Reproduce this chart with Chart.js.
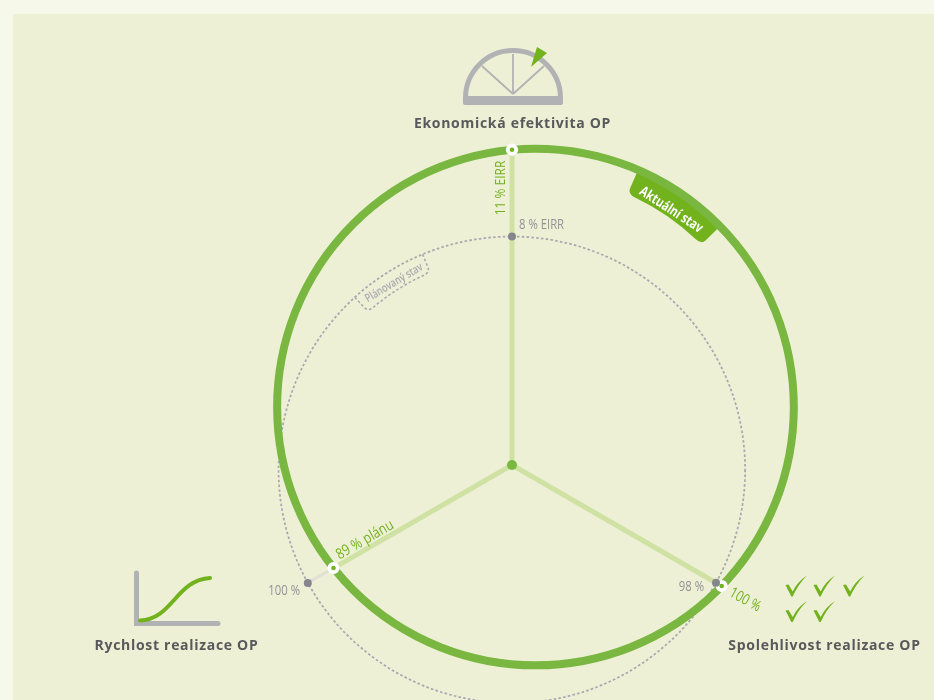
<!DOCTYPE html>
<html lang="cs">
<head>
<meta charset="utf-8">
<title>Hodnocení OP</title>
<script src="https://cdn.jsdelivr.net/npm/chart.js@4/dist/chart.umd.min.js"></script>
<style>
  html, body { margin: 0; padding: 0; background: #f6f8ea; overflow: hidden; }
  #page { position: absolute; left: 0; top: 0; width: 934px; height: 700px; overflow: hidden; }
  #panel { position: absolute; left: 13px; top: 14px; right: 0; bottom: 0; background: #eef0d6; }
  canvas { position: absolute; left: 0; top: 0; }
</style>
</head>
<body>
<div id="page">
  <div id="panel"></div>
  <!-- taller than the page: points outside chartArea are not drawn, the top one needs the room -->
  <canvas id="chart" width="934" height="865"></canvas>
</div>
<script>
// top axis, lower right axis, lower left axis (radar goes clockwise)
const categories = ['Ekonomická efektivita OP', 'Spolehlivost realizace OP', 'Rychlost realizace OP']

// reach along each axis, in percent of the plan ring
const actualReach = [134, 102.9, 87.6]
const plannedReach = [97.1, 100.1, 100.2]

const actualLabels = ['11 % EIRR', '100 %', '89 % plánu']
const plannedLabels = ['8 % EIRR', '98 %', '100 %']

const tagActual = 'Aktuální stav'
const tagPlanned = 'Plánovaný stav'

const GREEN = '#79b740'
const LIME = '#72b21d'
const SPOKE = '#cfe2a4'
const GREY = '#85868b'
const LABEL = '#929397'
const ICON = '#b1b2b4'
const DOTTED = '#a9aab0'
const TITLE = '#58595b'
const SANS = '"Open Sans", sans-serif'

/// Circle through three points.
function circumcircle(a, b, c) {
  const d = 2 * (a.x * (b.y - c.y) + b.x * (c.y - a.y) + c.x * (a.y - b.y))
  const s = (p) => p.x * p.x + p.y * p.y
  const x = (s(a) * (b.y - c.y) + s(b) * (c.y - a.y) + s(c) * (a.y - b.y)) / d
  const y = (s(a) * (c.x - b.x) + s(b) * (a.x - c.x) + s(c) * (b.x - a.x)) / d
  return {x, y, r: Math.hypot(a.x - x, a.y - y)}
}

function polar(c, r, deg) {
  const t = (deg * Math.PI) / 180
  return {x: c.x + r * Math.cos(t), y: c.y + r * Math.sin(t)}
}

/// squeeze narrows the glyphs, none of the installed fonts is condensed
function text(ctx, str, x, y, font, color, {deg = 0, align = 'center', spacing = '0px', squeeze = 1} = {}) {
  ctx.save()
  ctx.translate(x, y)
  ctx.rotate((deg * Math.PI) / 180)
  ctx.scale(squeeze, 1)
  ctx.font = font
  ctx.fillStyle = color
  ctx.textAlign = align
  ctx.textBaseline = 'middle'
  ctx.letterSpacing = spacing
  ctx.fillText(str, 0, 0)
  ctx.restore()
}

function drawRing(ctx, c, color, width, dash) {
  ctx.save()
  ctx.strokeStyle = color
  ctx.lineWidth = width
  ctx.setLineDash(dash)
  ctx.beginPath()
  ctx.arc(c.x, c.y, c.r, 0, Math.PI * 2)
  ctx.stroke()
  ctx.restore()
}

function line(ctx, from, to, color, width) {
  ctx.strokeStyle = color
  ctx.lineWidth = width
  ctx.beginPath()
  ctx.moveTo(from.x, from.y)
  ctx.lineTo(to.x, to.y)
  ctx.stroke()
}

function drawGauge(ctx) {
  const c = {x: 513, y: 94}
  ctx.save()
  ctx.strokeStyle = ICON
  ctx.lineWidth = 5
  ctx.beginPath()
  ctx.arc(c.x, 98, 47.5, Math.PI, 0)
  ctx.stroke()
  ctx.fillStyle = ICON
  ctx.beginPath()
  ctx.roundRect(463, 96, 100, 9, 2)
  ctx.fill()
  line(ctx, c, {x: 513, y: 54}, ICON, 1.8)
  line(ctx, c, {x: 482, y: 66}, ICON, 1.8)
  line(ctx, c, {x: 544, y: 66}, ICON, 1.8)
  ctx.fillStyle = LIME
  ctx.beginPath()
  ctx.moveTo(547, 53)
  ctx.lineTo(537, 47)
  ctx.lineTo(531, 67)
  ctx.closePath()
  ctx.fill()
  ctx.restore()
}

function drawCurve(ctx) {
  ctx.save()
  ctx.lineCap = 'round'
  ctx.strokeStyle = ICON
  ctx.lineWidth = 5
  ctx.beginPath()
  ctx.moveTo(136.5, 573)
  ctx.lineTo(136.5, 623.5)
  ctx.lineTo(218, 623.5)
  ctx.stroke()
  ctx.strokeStyle = LIME
  ctx.lineWidth = 4
  ctx.beginPath()
  ctx.moveTo(140, 620.5)
  ctx.bezierCurveTo(172, 620, 176, 580, 210, 578)
  ctx.stroke()
  ctx.restore()
}

function drawChecks(ctx, origins) {
  ctx.save()
  ctx.fillStyle = LIME
  origins.forEach(([x, y]) => {
    ctx.beginPath()
    ctx.moveTo(x, y + 9.5)
    ctx.lineTo(x + 3, y + 9)
    ctx.lineTo(x + 7.2, y + 16)
    ctx.quadraticCurveTo(x + 12, y + 6, x + 21.5, y)
    ctx.quadraticCurveTo(x + 12.5, y + 9, x + 7.2, y + 21)
    ctx.lineTo(x + 5.8, y + 21)
    ctx.closePath()
    ctx.fill()
  })
  ctx.restore()
}

function tagPath(ctx, c, inner, outer, a1, a2) {
  const t = (deg) => (deg * Math.PI) / 180
  const p1 = polar(c, outer, a1)
  const p2 = polar(c, inner + 6, a1)
  const p3 = polar(c, inner, a1)
  const p4 = polar(c, inner, a1 + 2)
  const p5 = polar(c, inner, a2)
  const p6 = polar(c, inner + 6, a2)
  const p7 = polar(c, outer, a2)
  ctx.beginPath()
  ctx.moveTo(p1.x, p1.y)
  ctx.lineTo(p2.x, p2.y)
  ctx.quadraticCurveTo(p3.x, p3.y, p4.x, p4.y)
  ctx.arc(c.x, c.y, inner, t(a1 + 2), t(a2 - 2))
  ctx.quadraticCurveTo(p5.x, p5.y, p6.x, p6.y)
  ctx.lineTo(p7.x, p7.y)
}

const ringsPlugin = {
  id: 'rings',
  beforeDatasetsDraw(chart) {
    const {ctx} = chart
    const scale = chart.scales.r
    const pos = (values, i) => scale.getPointPositionForValue(i, values[i])
    const center = {x: scale.xCenter, y: scale.yCenter}
    const actual = actualReach.map((_, i) => pos(actualReach, i))
    const planned = plannedReach.map((_, i) => pos(plannedReach, i))
    const actualRing = circumcircle(actual[0], actual[1], actual[2])
    const plannedRing = circumcircle(planned[0], planned[1], planned[2])

    drawRing(ctx, plannedRing, DOTTED, 1.8, [2.6, 2.2])

    // planned tag hangs off the dotted ring
    ctx.save()
    ctx.strokeStyle = DOTTED
    ctx.lineWidth = 1.6
    ctx.setLineDash([2.6, 2.2])
    tagPath(ctx, plannedRing, 213.5, plannedRing.r, -132.3, -112.5)
    ctx.stroke()
    ctx.restore()

    // spokes
    ctx.save()
    line(ctx, actual[2], planned[2], '#e0e1d4', 3)
    line(ctx, center, actual[0], SPOKE, 5)
    line(ctx, center, planned[1], SPOKE, 5)
    line(ctx, center, actual[2], SPOKE, 5)
    ctx.fillStyle = GREEN
    ctx.beginPath()
    ctx.arc(center.x, center.y, 5, 0, Math.PI * 2)
    ctx.fill()
    ctx.restore()

    // actual tag first so the ring sits on top of it
    ctx.save()
    ctx.fillStyle = LIME
    tagPath(ctx, actualRing, 232, actualRing.r, -66.6, -44.4)
    ctx.arc(actualRing.x, actualRing.y, actualRing.r, (-44.4 * Math.PI) / 180, (-66.6 * Math.PI) / 180, true)
    ctx.closePath()
    ctx.fill()
    ctx.restore()

    drawRing(ctx, actualRing, GREEN, 8, [])
  },
  afterDatasetsDraw(chart) {
    const {ctx} = chart

    drawGauge(ctx)
    drawCurve(ctx)
    drawChecks(ctx, [[785.5, 575.5], [813.5, 575.5], [843, 575.5], [785.5, 601], [813.5, 601]])

    const bold = `bold 14px ${SANS}`
    const spaced = {spacing: '0.7px'}
    text(ctx, categories[0], 512.5, 124, bold, TITLE, spaced)
    text(ctx, categories[1], 824.5, 646.5, bold, TITLE, spaced)
    text(ctx, categories[2], 176.5, 646.5, bold, TITLE, spaced)

    const green = `15px ${SANS}`
    const grey = `14.5px ${SANS}`
    text(ctx, actualLabels[0], 501, 188, green, LIME, {deg: -90, squeeze: 0.8})
    text(ctx, actualLabels[1], 745, 600, green, LIME, {deg: 29, squeeze: 0.8})
    text(ctx, actualLabels[2], 365, 540, green, LIME, {deg: -30, squeeze: 0.83})
    text(ctx, plannedLabels[0], 519, 225, grey, LABEL, {align: 'left', squeeze: 0.78})
    text(ctx, plannedLabels[1], 704, 587, grey, LABEL, {align: 'right', squeeze: 0.78})
    text(ctx, plannedLabels[2], 300, 591, grey, LABEL, {align: 'right', squeeze: 0.78})

    text(ctx, tagActual, 671, 210, `bold 14px ${SANS}`, '#ffffff', {deg: 33, squeeze: 0.78})
    text(ctx, tagPlanned, 394, 283, `600 11.5px ${SANS}`, DOTTED, {deg: -31, squeeze: 0.78})
  },
}

new Chart(document.getElementById('chart'), {
  type: 'radar',
  data: {
    labels: categories,
    datasets: [
      {
        label: 'Plánovaný stav',
        data: plannedReach,
        showLine: false,
        fill: false,
        clip: false,
        pointRadius: 4,
        pointBorderWidth: 0,
        pointBackgroundColor: GREY,
      },
      {
        label: 'Aktuální stav',
        data: actualReach,
        showLine: false,
        fill: false,
        clip: false,
        pointRadius: 4.2,
        pointBorderWidth: 3.8,
        pointBorderColor: '#ffffff',
        pointBackgroundColor: LIME,
      },
    ],
  },
  options: {
    responsive: false,
    animation: false,
    layout: {padding: {left: 112, right: 22, top: 65}},
    scales: {
      r: {
        min: 0,
        max: 170,
        ticks: {display: false},
        grid: {display: false},
        angleLines: {display: false},
        pointLabels: {display: false},
      },
    },
    plugins: {
      legend: {display: false},
      tooltip: {enabled: false},
    },
  },
  plugins: [ringsPlugin],
})
</script>
</body>
</html>
